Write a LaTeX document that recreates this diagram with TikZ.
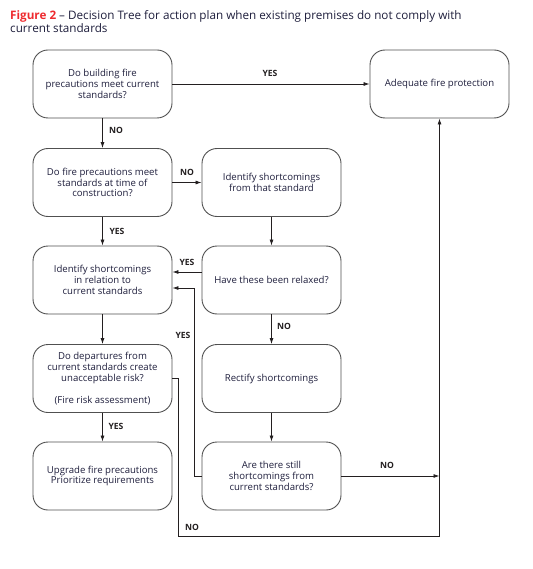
\documentclass[tikz,border=0pt]{standalone}
\usepackage{fontspec}
\setmainfont{Open Sans}
\usetikzlibrary{arrows.meta}
\definecolor{figred}{HTML}{EE2A2E}
\definecolor{txt}{HTML}{1E1E3C}
\definecolor{lin}{HTML}{231F20}
\definecolor{bord}{HTML}{505050}
\begin{document}
\begin{tikzpicture}[x=1pt,y=-1pt,
  box/.style={draw=bord,line width=0.9pt,rounded corners=15pt,minimum width=139pt,minimum height=68pt,align=center,text=txt,font=\fontsize{9.6}{10.8}\selectfont,inner sep=2pt},
  conn/.style={draw=lin,line width=0.8pt},
  arr/.style={conn,-{Latex[length=6pt,width=4pt]}},
  lbl/.style={text=lin,font=\fontsize{8.6}{9}\selectfont\bfseries,inner sep=0pt},
  ttl/.style={anchor=base west,inner sep=0pt,font=\fontsize{11.7}{13}\selectfont,text=txt}]
\useasboundingbox (0,0) rectangle (532,569);
\node[ttl] (title1) at (10,20) {\textcolor{figred}{\bfseries Figure 2} -- Decision Tree for action plan when existing premises do not comply with};
\node[ttl] (title2) at (10,32.5) {current standards};
\node[box] (b1) at (102.5,84) {Do building fire\\precautions meet current\\standards?};
\node[box] (b2) at (102.5,182.5) {Do fire precautions meet\\standards at time of\\construction?};
\node[box] (b3) at (102.5,280) {Identify shortcomings\\in relation to\\current standards};
\node[box] (b4) at (102.5,378.5) {Do departures from\\current standards create\\unacceptable risk?\\[10.8pt](Fire risk assessment)};
\node[box] (b5) at (102.5,476) {Upgrade fire precautions\\Prioritize requirements};
\node[box] (r1) at (271.5,182.5) {Identify shortcomings\\from that standard};
\node[box] (r2) at (271.5,280) {Have these been relaxed?};
\node[box] (r3) at (271.5,378.5) {Rectify shortcomings};
\node[box] (r4) at (271.5,476) {Are there still\\shortcomings from\\current standards?};
\node[box] (ad) at (439.5,84) {Adequate fire protection};
\coordinate (c1) at (194,476);
\coordinate (c2) at (194,288);
\coordinate (c3) at (178,378.5);
\coordinate (c4) at (178,536);
\coordinate (c5) at (439.5,536);
\coordinate (c6) at (439.5,476);
\draw[arr] (b1) -- (ad);
\draw[arr] (b1) -- (b2);
\draw[arr] (b2) -- (r1);
\draw[arr] (b2) -- (b3);
\draw[arr] (r1) -- (r2);
\draw[arr] (r2.west |- 0,272) -- (b3.east |- 0,272);
\draw[arr] (r2) -- (r3);
\draw[arr] (r3) -- (r4);
\draw[arr] (b3) -- (b4);
\draw[arr] (b4) -- (b5);
\draw[arr] (r4.west) -- (c1) -- (c2) -- (b3.east |- c2);
\draw[arr] (r4.east) -- (c6);
\draw[arr] (b4.east) -- (c3) -- (c4) -- (c5) -- (ad.south);
\node[lbl] (l1) at (270,73) {YES};
\node[lbl] (l2) at (116,130.5) {NO};
\node[lbl] (l3) at (187,172) {NO};
\node[lbl] (l4) at (117,231) {YES};
\node[lbl] (l5) at (187,262) {YES};
\node[lbl] (l6) at (284,326) {NO};
\node[lbl] (l7) at (183,335) {YES};
\node[lbl] (l8) at (116,426.5) {YES};
\node[lbl] (l9) at (387,465.5) {NO};
\node[lbl] (l10) at (192,527.5) {NO};
\end{tikzpicture}
\end{document}
